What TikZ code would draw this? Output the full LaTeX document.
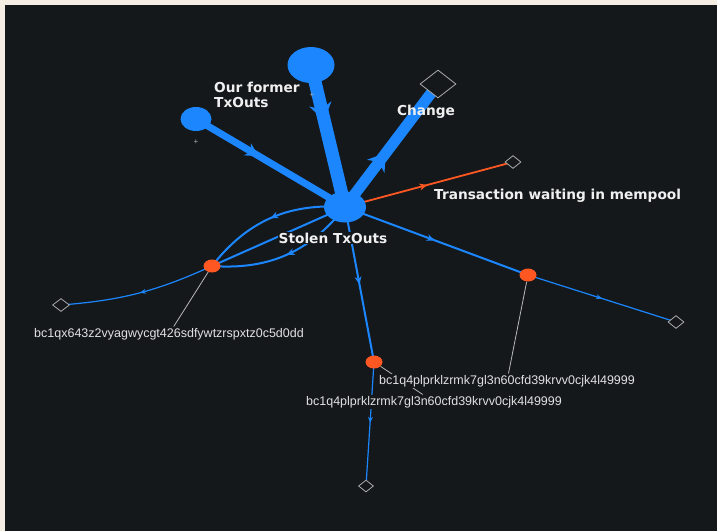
\documentclass[tikz,border=0pt]{standalone}
\usepackage{fontspec}
\setmainfont{Liberation Sans}
\newfontfamily\tagfont{DejaVu Sans}
\usepackage{tikz}
\usetikzlibrary{arrows.meta,shapes.geometric,decorations.markings,positioning}
\definecolor{paper}{RGB}{245,237,227}
\definecolor{bgdark}{RGB}{20,24,27}
\definecolor{flowblue}{RGB}{28,134,255}
\definecolor{spendred}{RGB}{255,87,34}
\definecolor{sinkgray}{RGB}{170,170,170}
\definecolor{leadgray}{RGB}{185,185,185}
\definecolor{tagwhite}{RGB}{240,240,240}
\definecolor{hashgray}{RGB}{225,225,225}
\tikzstyle{txout} = [ellipse, fill=flowblue, inner sep=0pt]
\tikzstyle{addr} = [ellipse, fill=spendred, inner sep=0pt, minimum width=17pt, minimum height=13pt]
\tikzstyle{sink} = [diamond, draw=sinkgray, fill=bgdark, inner sep=0pt, line width=0.8pt]
\tikzstyle{tag} = [text=tagwhite, font=\tagfont\bfseries\fontsize{13.7}{15.5}\selectfont, inner sep=1pt]
\tikzstyle{hash} = [text=hashgray, font=\fontsize{12.5}{14}\selectfont, fill=bgdark, inner sep=1.5pt]
\tikzstyle{cross} = [text=sinkgray, font=\fontsize{8}{8}\selectfont, inner sep=0pt]
\tikzstyle{flow} = [color=flowblue]
\tikzstyle{spend} = [color=spendred]
\tikzstyle{leader} = [draw=leadgray, line width=0.8pt]
\tikzset{
  midtip/.style n args={3}{postaction={decorate},
    decoration={markings, mark=at position #1 with {\arrow{Stealth[length=#2, width=#3, line width=0pt]}}}}
}
\pgfdeclarelayer{edges}
\pgfsetlayers{edges,main}

\begin{document}
\begin{tikzpicture}[x=1pt, y=-1pt]
\useasboundingbox (0,0) rectangle (717,531);

% Transaction outputs
\node (hub) [txout, minimum width=42pt, minimum height=31pt] at (345,207) {};
\node (former1) [txout, minimum width=47pt, minimum height=36pt] at (311,65) {};
\node (former2) [txout, minimum width=31pt, minimum height=24pt] at (196,119) {};

% Addresses
\node (addr1) [addr] at (212,266) {};
\node (addr2) [addr] at (528,275) {};
\node (addr3) [addr] at (374,362) {};

% Unspent ends
\node (change) [sink, minimum width=36pt, minimum height=28pt] at (438,84) {};
\node (mempool) [sink, minimum width=16pt, minimum height=13pt] at (513,162) {};
\node (lsink) [sink, minimum width=17pt, minimum height=13pt] at (61,305) {};
\node (rsink) [sink, minimum width=16pt, minimum height=13pt] at (676,322) {};
\node (bsink) [sink, minimum width=15pt, minimum height=12pt] at (366,486) {};

\node (plus1) [cross] at (312,95) {+};
\node (plus2) [cross] at (196,142) {+};

% Labels
\node (formerlbl) [tag, anchor=west, align=left] at (213,95) {Our former\\TxOuts};
\node (changelbl) [tag] at (426,112) {Change};
\node (mempoollbl) [tag, anchor=west] at (433,196) {Transaction waiting in mempool};
\node (stolenlbl) [tag, fill=bgdark] at (333,238) {Stolen TxOuts};
\node (hash1) [hash] at (169,334) {bc1qx643z2vyagwycgt426sdfywtzrspxtz0c5d0dd};
\node (hash3) [hash] at (434,402) {bc1q4plprklzrmk7gl3n60cfd39krvv0cjk4l49999};
\node (hash2) [hash] at (507,381) {bc1q4plprklzrmk7gl3n60cfd39krvv0cjk4l49999};

\begin{pgfonlayer}{edges}
\fill[paper] (0,0) rectangle (717,531);
\fill[bgdark] (4.5,5) rectangle (717,531);

% Thick flows
\draw[flow, line width=13pt, midtip={0.39}{17pt}{23pt}] (former1.center) -- (hub.center);
\draw[flow, line width=7pt, midtip={0.42}{13pt}{14pt}] (former2.center) -- (hub.center);
\draw[flow, line width=11pt, midtip={0.44}{17pt}{22pt}] (hub.center) -- (change.center);

% Thin flows
\draw[flow, line width=2pt, midtip={0.5}{8pt}{7pt}] (hub.center) to[bend right=28] (addr1.center);
\draw[flow, line width=2pt] (hub.center) -- (addr1.center);
\draw[flow, line width=2pt, midtip={0.5}{8pt}{7pt}] (hub.center) to[bend left=28] (addr1.center);
\draw[flow, line width=2pt, midtip={0.49}{8pt}{7pt}] (hub.center) -- (addr2.center);
\draw[flow, line width=2pt, midtip={0.5}{8pt}{7pt}] (hub.center) -- (addr3.center);
\draw[flow, line width=1.2pt, midtip={0.49}{6pt}{5pt}] (addr1.center) to[bend left=10] (lsink.center);
\draw[flow, line width=1.2pt, midtip={0.5}{6pt}{5pt}] (addr2.center) -- (rsink.center);
\draw[flow, line width=1.2pt, midtip={0.49}{6pt}{5pt}] (addr3.center) -- (bsink.center);
\draw[spend, line width=1.8pt, midtip={0.49}{8pt}{7pt}] (hub.center) -- (mempool.center);

% Leader lines
\draw[leader] (addr1) -- (hash1);
\draw[leader] (addr2) -- (hash2);
\draw[leader] (addr3) -- (hash3);
\end{pgfonlayer}
\end{tikzpicture}
\end{document}
